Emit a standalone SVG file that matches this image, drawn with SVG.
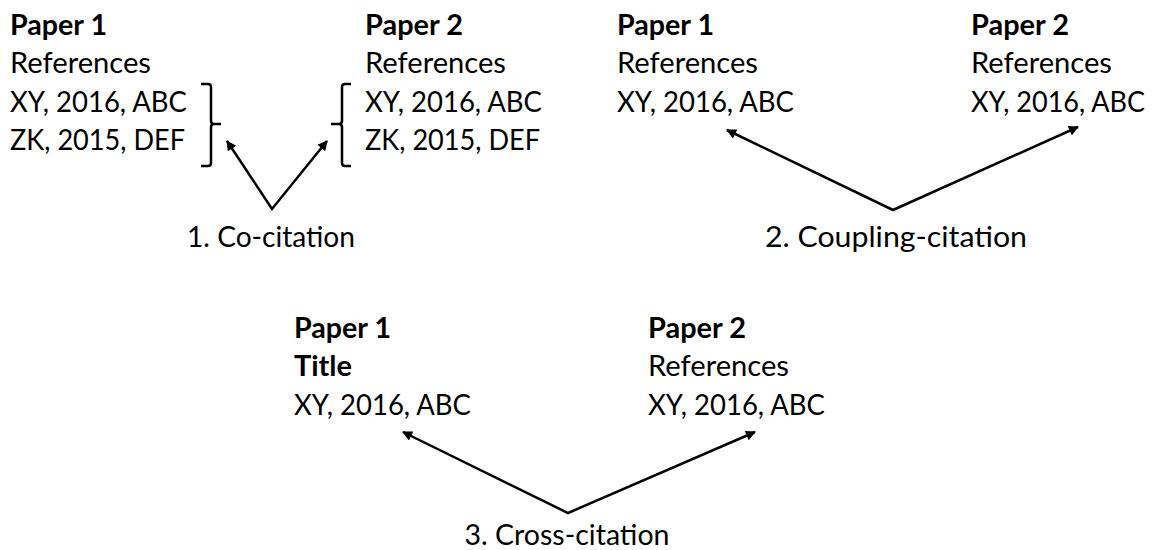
<svg xmlns="http://www.w3.org/2000/svg" width="1152" height="550" viewBox="0 0 1152 550">
<defs>
<style>
text{font-family:Lato,"Open Sans","Liberation Sans",sans-serif;font-size:29px;fill:#000}
.b{font-weight:bold}
.c{text-anchor:middle}
.s{font-size:28px}
.ln{fill:none;stroke:#000;stroke-width:2.5}
</style>
<marker id="ah" viewBox="0 0 10 10" refX="9" refY="5" markerWidth="13" markerHeight="10" markerUnits="userSpaceOnUse" orient="auto-start-reverse">
<path d="M0,0 L10,5 L0,10 Z" fill="#000"/>
</marker>
</defs>
<rect width="1152" height="550" fill="#fff"/>
<g id="co-p1">
<text x="10" y="35" class="b" textLength="97" lengthAdjust="spacingAndGlyphs">Paper 1</text>
<text x="10" y="73" textLength="141" lengthAdjust="spacingAndGlyphs">References</text>
<text x="10" y="112" textLength="177" lengthAdjust="spacingAndGlyphs">XY, 2016, ABC</text>
<text x="10" y="150" textLength="175" lengthAdjust="spacingAndGlyphs">ZK, 2015, DEF</text>
<path class="ln" d="M201,84 H208 Q211,84 211,87 V121 Q211,124 214,124 H221 M214,124 Q211,124 211,127 V163 Q211,166 208,166 H201"/>
</g>
<g id="co-p2">
<text x="365" y="35" class="b" textLength="98" lengthAdjust="spacingAndGlyphs">Paper 2</text>
<text x="365" y="73" textLength="141" lengthAdjust="spacingAndGlyphs">References</text>
<text x="365" y="112" textLength="177" lengthAdjust="spacingAndGlyphs">XY, 2016, ABC</text>
<text x="365" y="150" textLength="175" lengthAdjust="spacingAndGlyphs">ZK, 2015, DEF</text>
<path class="ln" d="M351,84 H345 Q342,84 342,87 V121 Q342,124 339,124 H331 M339,124 Q342,124 342,127 V163 Q342,166 345,166 H351"/>
</g>
<g id="co-label">
<text x="271" y="247" class="c" textLength="168" lengthAdjust="spacingAndGlyphs">1. Co-citation</text>
</g>
<g id="cp-p1">
<text x="617" y="35" class="b" textLength="97" lengthAdjust="spacingAndGlyphs">Paper 1</text>
<text x="617" y="73" textLength="141" lengthAdjust="spacingAndGlyphs">References</text>
<text x="617" y="112" textLength="177" lengthAdjust="spacingAndGlyphs">XY, 2016, ABC</text>
</g>
<g id="cp-p2">
<text x="971" y="35" class="b" textLength="98" lengthAdjust="spacingAndGlyphs">Paper 2</text>
<text x="971" y="73" textLength="141" lengthAdjust="spacingAndGlyphs">References</text>
<text x="971" y="112" class="s" textLength="174" lengthAdjust="spacingAndGlyphs">XY, 2016, ABC</text>
</g>
<g id="cp-label">
<text x="896" y="247" class="c" textLength="262" lengthAdjust="spacingAndGlyphs">2. Coupling-citation</text>
</g>
<g id="cr-p1">
<text x="294" y="338" class="b" textLength="97" lengthAdjust="spacingAndGlyphs">Paper 1</text>
<text x="294" y="376" class="b" textLength="58" lengthAdjust="spacingAndGlyphs">Title</text>
<text x="294" y="415" textLength="177" lengthAdjust="spacingAndGlyphs">XY, 2016, ABC</text>
</g>
<g id="cr-p2">
<text x="648" y="338" class="b" textLength="98" lengthAdjust="spacingAndGlyphs">Paper 2</text>
<text x="648" y="376" textLength="141" lengthAdjust="spacingAndGlyphs">References</text>
<text x="648" y="415" textLength="177" lengthAdjust="spacingAndGlyphs">XY, 2016, ABC</text>
</g>
<g id="cr-label">
<text x="567" y="545" class="c" textLength="205" lengthAdjust="spacingAndGlyphs">3. Cross-citation</text>
</g>
<g id="connectors">
<polyline class="ln" points="227,141 272,209 327,141" marker-start="url(#ah)" marker-end="url(#ah)"/>
<polyline class="ln" points="727,130 893,210 1078,127" marker-start="url(#ah)" marker-end="url(#ah)"/>
<polyline class="ln" points="403,432 568,513 755,432" marker-start="url(#ah)" marker-end="url(#ah)"/>
</g>
</svg>
